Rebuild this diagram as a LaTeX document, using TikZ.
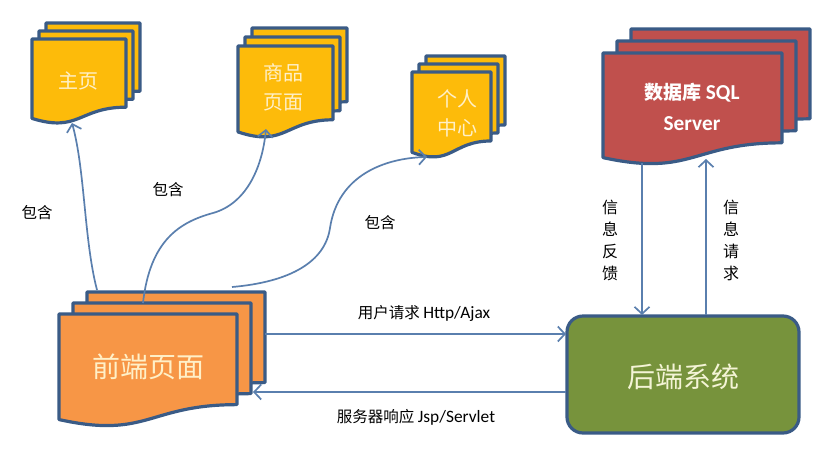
\documentclass[tikz,border=0pt]{standalone}
\usepackage{fontspec}
\setmainfont{Noto Sans CJK SC}
\newfontfamily\lat{Carlito}[Scale=1.12]
\usetikzlibrary{arrows.meta}
\definecolor{bordc}{HTML}{3A5B86}
\definecolor{linec}{HTML}{5A7FAE}
\definecolor{goldc}{HTML}{FDBB0A}
\definecolor{orangec}{HTML}{F79646}
\definecolor{redc}{HTML}{C0504D}
\definecolor{greenc}{HTML}{77933C}
\definecolor{creamc}{HTML}{FFF0C8}
\definecolor{creamg}{HTML}{F4F4D6}
\tikzset{
  docline/.style={draw=bordc,line width=3.2pt,line join=round},
  conn/.style={draw=linec,line width=1.7pt,-{Straight Barb[length=7pt,width=15pt]}},
  lbl/.style={font=\fontsize{15.5}{18}\selectfont,text=black},
  vlbl/.style={font=\fontsize{16}{22}\selectfont,align=center,text=black},
  doctext/.style={align=center,text=creamc,font=\fontsize{20}{29}\selectfont}
}
\newcommand\onedoc[5]{%
  \filldraw[docline,fill=#5] (#1,#2) -- ({#1+#3},#2) -- ({#1+#3},{#2+0.802*#4})
   .. controls ({#1+0.5*#3},{#2+0.802*#4}) and ({#1+0.5*#3},{#2+1.1075*#4}) ..
   (#1,{#2+0.934*#4}) -- cycle;}
% x y w h dx dy fill
\newcommand\multidoc[7]{%
  \onedoc{#1+2*#5}{#2-2*#6}{#3}{#4}{#7}
  \onedoc{#1+#5}{#2-#6}{#3}{#4}{#7}
  \onedoc{#1}{#2}{#3}{#4}{#7}}
\begin{document}
\begin{tikzpicture}[x=1pt,y=-1pt]
\useasboundingbox[fill=white] (0,0) rectangle (838,464);
% documents
\multidoc{32}{39}{94}{85}{7}{8}{goldc}
\multidoc{238}{46}{95}{92}{7}{9}{goldc}
\multidoc{412}{72}{79}{86}{7}{8}{goldc}
\multidoc{603}{53}{179}{112}{14}{12}{redc}
\multidoc{59}{314}{178}{113}{14}{11}{orangec}
% backend
\node[draw=bordc,line width=3.2pt,fill=greenc,rounded corners=16pt,
      minimum width=232pt,minimum height=117pt,inner sep=0pt] (back) at (683,374.5) {};
% texts
\node[doctext] (zhuye) at (78,81) {主页};
\node[doctext] (shangpin) at (283,87) {商品\\页面};
\node[doctext] (geren) at (457,113) {个人\\中心};
\node[align=center,text=white,font=\fontsize{19}{31}\selectfont\bfseries] (db) at (692,107)
  {数据库 {\lat\bfseries SQL}\\{\lat\bfseries Server}};
\node[text=creamc,font=\fontsize{28}{30}\selectfont] (front) at (148,367) {前端页面};
\node[text=creamg,font=\fontsize{28}{30}\selectfont] (backt) at (683,377) {后端系统};
% anchor coordinates
\coordinate (fA) at (97,290);
\coordinate (fB) at (143,303);
\coordinate (fC) at (232,287);
\coordinate (zB) at (72,123);
\coordinate (sB) at (266,129);
\coordinate (gB) at (427,157);
\coordinate (fR1) at (265,334);
\coordinate (bL1) at (566,334);
\coordinate (bL2) at (566,392);
\coordinate (fR2) at (253,392);
\coordinate (dbB1) at (642,163);
\coordinate (bT1) at (642,315);
\coordinate (bT2) at (706,315);
\coordinate (dbB2) at (706,159);
% connectors
\draw[conn] (fA) .. controls (84,240) and (85,170) .. (zB);
\draw[conn] (fB) .. controls (150,240) and (180,222) .. (213,213)
   .. controls (245,204) and (262,170) .. (sB);
\draw[conn] (fC) .. controls (290,282) and (325,262) .. (330,228)
   .. controls (338,175) and (385,158) .. (gB);
\draw[conn] (fR1) -- (bL1);
\draw[conn] (bL2) -- (fR2);
\draw[conn] (dbB1) -- (bT1);
\draw[conn] (bT2) -- (dbB2);
% labels
\node[lbl] (l1) at (37,213) {包含};
\node[lbl] (l2) at (168,190) {包含};
\node[lbl] (l3) at (380,223) {包含};
\node[lbl] (req) at (424,313) {用户请求 {\lat Http/Ajax}};
\node[lbl] (resp) at (416,417) {服务器响应 {\lat Jsp/Servlet}};
\node[vlbl] (fb) at (610,240) {信\\息\\反\\馈};
\node[vlbl] (rq) at (731,240) {信\\息\\请\\求};
\end{tikzpicture}
\end{document}
